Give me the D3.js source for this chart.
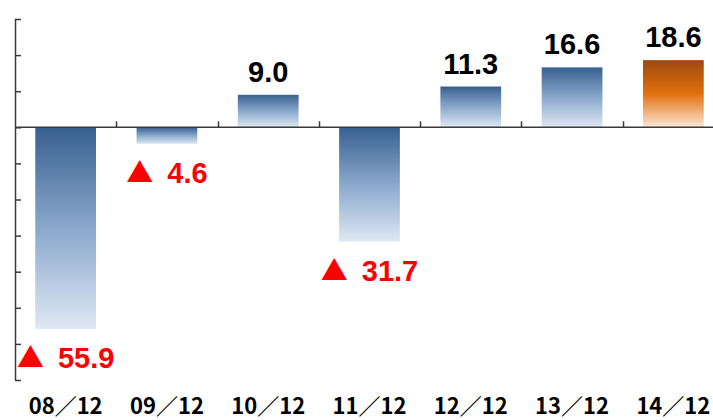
<!DOCTYPE html>
<html>
<head>
<meta charset="utf-8">
<script src="https://cdn.jsdelivr.net/npm/d3@7"></script>
<style>
  body { margin: 0; background: #fff; }
  svg { display: block; }
</style>
</head>
<body>
<div id="chart"></div>
<script>
// Year-on-year change by period
const categories = ['08/12', '09/12', '10/12', '11/12', '12/12', '13/12', '14/12'];
const values = [-55.9, -4.6, 9.0, -31.7, 11.3, 16.6, 18.6];
const highlight = [false, false, false, false, false, false, true];
const yTicks = [-70, -60, -50, -40, -30, -20, -10, 0, 10, 20, 30];

const W = 713, H = 420;
const axisX = 15;

const svg = d3.select('#chart')
    .append('svg')
    .attr('width', W)
    .attr('height', H);

// Gradients
const defs = svg.append('defs');
const blue = defs.append('linearGradient')
    .attr('id', 'g-blue')
    .attr('x1', 0).attr('y1', 0).attr('x2', 0).attr('y2', 1);
blue.append('stop').attr('offset', '0%').attr('stop-color', '#38608f');
blue.append('stop').attr('offset', '50%').attr('stop-color', '#8aa8cc');
blue.append('stop').attr('offset', '100%').attr('stop-color', '#dfe8f3');

const orange = defs.append('linearGradient')
    .attr('id', 'g-orange')
    .attr('x1', 0).attr('y1', 0).attr('x2', 0).attr('y2', 1);
orange.append('stop').attr('offset', '0%').attr('stop-color', '#9a4a0e');
orange.append('stop').attr('offset', '50%').attr('stop-color', '#e2700f');
orange.append('stop').attr('offset', '100%').attr('stop-color', '#fde8d8');

// Scales
const x = d3.scaleBand()
    .domain(categories)
    .range([axisX, axisX + 709])
    .paddingInner(0.4)
    .paddingOuter(0.2);

const y = d3.scaleLinear()
    .domain([-70, 30])
    .range([380, 19]);

// Bars
const data = categories.map((c, i) => ({ cat: c, v: values[i], hi: highlight[i] }));

svg.selectAll('.bar')
    .data(data)
    .enter()
    .append('rect')
    .attr('class', 'bar')
    .attr('x', d => x(d.cat))
    .attr('width', x.bandwidth())
    .attr('y', d => y(Math.max(0, d.v)))
    .attr('height', d => Math.abs(y(d.v) - y(0)))
    .attr('fill', d => d.hi ? 'url(#g-orange)' : 'url(#g-blue)');

// Y axis (no labels)
const yAxis = d3.axisRight(y)
    .tickValues(yTicks)
    .tickSize(6)
    .tickFormat('');

const gy = svg.append('g')
    .attr('transform', `translate(${axisX},0)`)
    .call(yAxis);
gy.select('.domain').attr('d', `M0.5,${y(30)}V${y(-70)}`);

// X axis along zero, ticks on category boundaries
const step = x.step();
const boundaries = categories.map((c, i) => axisX + (i + 1) * step);

const gx = svg.append('g');
gx.append('line')
    .attr('x1', axisX).attr('x2', W)
    .attr('y1', y(0)).attr('y2', y(0));
gx.selectAll('.xt')
    .data(boundaries)
    .enter()
    .append('line')
    .attr('class', 'xt')
    .attr('x1', d => Math.round(d) + 0.5).attr('x2', d => Math.round(d) + 0.5)
    .attr('y1', y(0) - 6).attr('y2', y(0));

svg.selectAll('g line, g path')
    .attr('stroke', '#3a3a3a')
    .attr('stroke-width', 1.5);

// Value labels
const labels = svg.selectAll('.val')
    .data(data)
    .enter()
    .append('text')
    .attr('class', 'val')
    .attr('x', d => x(d.cat) + x.bandwidth() / 2)
    .attr('y', d => d.v >= 0 ? y(d.v) - 13 : y(d.v) + 39)
    .attr('text-anchor', 'middle')
    .attr('font-family', 'Liberation Sans, Arial, sans-serif')
    .attr('font-weight', 'bold')
    .attr('font-size', 29)
    .attr('fill', d => d.v >= 0 ? '#000' : '#ff0000');

labels.filter(d => d.v < 0)
    .append('tspan')
    .attr('font-family', 'Noto Sans CJK JP, sans-serif')
    .attr('font-size', 27)
    .text('\u25B2');
labels.append('tspan')
    .attr('dx', d => d.v < 0 ? 6 : 0)
    .text(d => d.v >= 0 ? d.v.toFixed(1) : ' ' + Math.abs(d.v).toFixed(1));

// Category labels
svg.selectAll('.cat')
    .data(categories)
    .enter()
    .append('text')
    .attr('class', 'cat')
    .attr('x', d => x(d) + x.bandwidth() / 2)
    .attr('y', 414)
    .attr('text-anchor', 'middle')
    .attr('font-family', 'Noto Sans CJK JP, sans-serif')
    .attr('font-weight', 'bold')
    .attr('font-size', 22)
    .attr('fill', '#000')
    .text(d => d.replace('/', '\uFF0F'));
</script>
</body>
</html>
